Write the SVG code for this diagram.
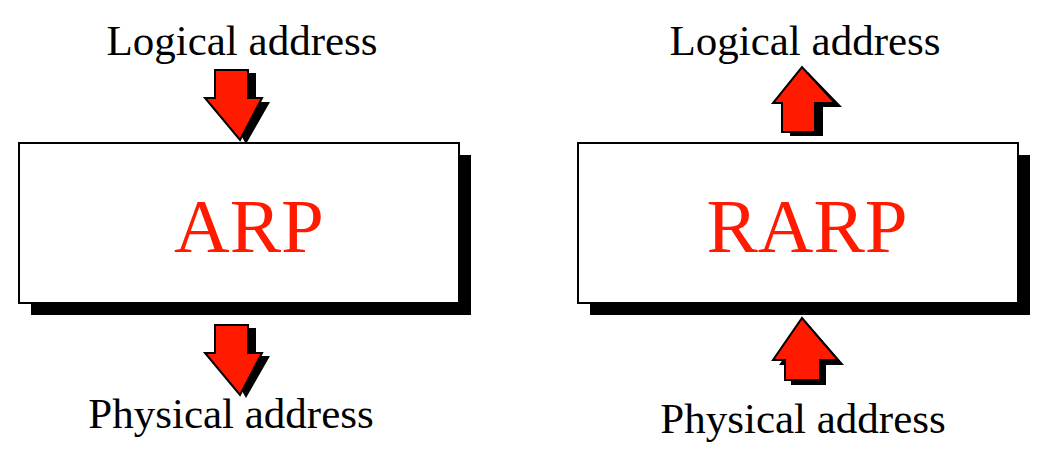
<svg xmlns="http://www.w3.org/2000/svg" width="1060" height="451" viewBox="0 0 1060 451">
<style>
.lbl{font-family:"Liberation Serif",serif;font-size:43px;fill:#000;text-anchor:middle}
.big{font-family:"Liberation Serif",serif;font-size:77px;fill:#ff1a00;text-anchor:middle}
.box{fill:#fff;stroke:#000;stroke-width:2}
.sh{fill:#000}
.arr{fill:#ff1a00;stroke:#000;stroke-width:2;stroke-linejoin:miter}
.ash{fill:#000}
</style>
<rect width="1060" height="451" fill="#fff"/>
<g id="arp">
<rect class="sh" x="31" y="155" width="440" height="160"/>
<rect class="box" x="19" y="143" width="440" height="160"/>
<text class="big" x="249" y="252">ARP</text>
</g>
<g id="rarp">
<rect class="sh" x="590" y="155" width="440" height="160"/>
<rect class="box" x="578" y="143" width="440" height="160"/>
<text class="big" x="807" y="252">RARP</text>
</g>
<g id="labels">
<text class="lbl" x="242" y="55">Logical address</text>
<text class="lbl" x="231" y="428">Physical address</text>
<text class="lbl" x="805" y="55">Logical address</text>
<text class="lbl" x="803" y="433">Physical address</text>
</g>
<g id="connectors">
<g id="a1">
<polygon class="ash" points="222,73 256,73 256,102 270,102 246,144 222,102"/>
<polygon class="arr" points="215,70 248,70 248,98 262,98 240,140 205,98 215,98"/>
</g>
<g id="a2">
<polygon class="ash" points="222,328 256,328 256,356 270,356 246,398 222,356"/>
<polygon class="arr" points="215,325 248,325 248,353 262,353 240,395 205,353 215,353"/>
</g>
<g id="a3">
<polygon class="ash" points="790,136 823,136 823,107 842,107 808,72 781,107 790,107"/>
<polygon class="arr" points="782,132 815,132 815,103 835,103 802,67 773,103 782,103"/>
</g>
<g id="a4">
<polygon class="ash" points="791,385 826,385 826,365 844,365 808,324 779,365 791,365"/>
<polygon class="arr" points="785,380 820,380 820,360 838,360 802,318 773,360 785,360"/>
</g>
</g>
</svg>
